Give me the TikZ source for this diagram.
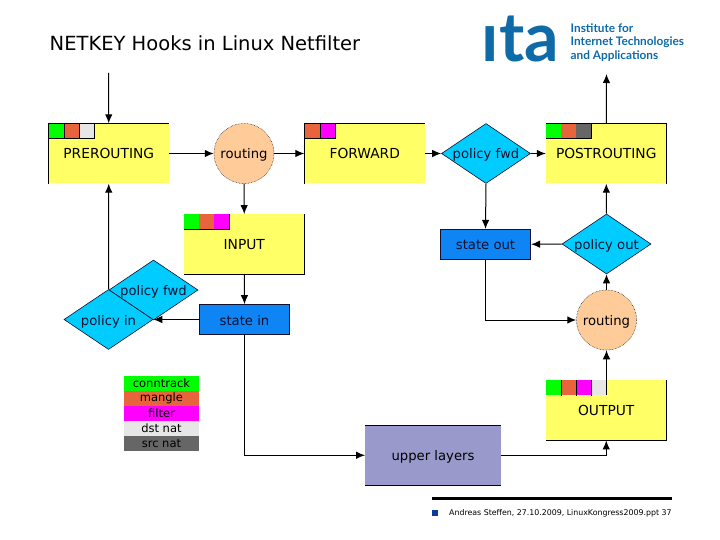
\documentclass[tikz,border=0pt]{standalone}
\usepackage{fontspec}
\setmainfont{DejaVu Sans}
\newfontfamily\logofont{Lato}
\usetikzlibrary{shapes.geometric,arrows.meta}
\definecolor{hookyellow}{HTML}{FFFF66}
\definecolor{routeorange}{HTML}{FFCC99}
\definecolor{policycyan}{HTML}{00CCFF}
\definecolor{stateblue}{HTML}{0F85F5}
\definecolor{layerviolet}{HTML}{9999CC}
\definecolor{cgreen}{HTML}{00FF00}
\definecolor{cmangle}{HTML}{E8643C}
\definecolor{cfilter}{HTML}{FF00FF}
\definecolor{cdst}{HTML}{E6E6E6}
\definecolor{csrc}{HTML}{666666}
\definecolor{itablue}{HTML}{0F6BA8}
\definecolor{labelink}{HTML}{101030}
\definecolor{bulletblue}{HTML}{0B3C9B}
\newcommand{\lab}[1]{\makebox[0pt]{\raisebox{-5.5pt}[0pt][0pt]{#1}}}
\tikzset{
  x=1pt,y=-1pt,
  hook/.style={fill=hookyellow,minimum width=120.5pt,minimum height=60pt,inner sep=0pt,font=\fontsize{13.8}{16}\selectfont},
  route/.style={circle,fill=routeorange,draw=black,line width=0.5pt,densely dotted,minimum size=60pt,inner sep=0pt,font=\fontsize{13.2}{16}\selectfont},
  policy/.style={diamond,fill=policycyan,draw=labelink,line width=0.6pt,minimum width=89pt,minimum height=60pt,inner sep=0pt,font=\fontsize{13.2}{16}\selectfont,text=labelink},
  statebox/.style={rectangle,fill=stateblue,draw=labelink,line width=0.7pt,minimum width=90.5pt,minimum height=30pt,inner sep=0pt,font=\fontsize{13.2}{16}\selectfont,text=labelink},
  layerbox/.style={fill=layerviolet,minimum width=135.5pt,minimum height=60pt,inner sep=0pt,font=\fontsize{13.2}{16}\selectfont},
  tab/.style={fill=#1,minimum size=15pt,inner sep=0pt,anchor=north west},
  legend/.style={fill=#1,minimum width=75.5pt,minimum height=15pt,inner sep=0pt,font=\fontsize{11.5}{13}\selectfont,anchor=north west},
  arrow/.style={draw=black,line width=1pt,-{Latex[length=9pt,width=7.5pt]}},
  edge/.style={draw=black,line width=1pt},
  blue text/.style={text=itablue,font=\logofont\bfseries\fontsize{11.8}{12}\selectfont,anchor=west,inner sep=0pt},
}
\begin{document}
\begin{tikzpicture}
\useasboundingbox (0,0) rectangle (720,540);
\fill[white] (0,0) rectangle (720,540);

\node[anchor=west,inner sep=0pt,font=\fontsize{19.5}{22}\selectfont] (title) at (49.5,43) {NETKEY Hooks in Linux Netfilter};
\node[anchor=base west,inner sep=0pt,text=itablue,font=\logofont\bfseries\fontsize{68}{72}\selectfont] (logo) at (481.5,62) {ıta};
\node[blue text] (inst1) at (570.5,28.5) {Institute for};
\node[blue text] (inst2) at (570.5,42.5) {Internet Technologies};
\node[blue text] (inst3) at (570.5,56.5) {and Applications};

% hooks
\node[hook] (pre) at (108.75,153.5) {PREROUTING};
\node[hook] (fwd) at (364.75,153.5) {FORWARD};
\node[hook] (post) at (606.25,153.5) {POSTROUTING};
\node[hook] (input) at (244.25,244.25) {INPUT};
\node[hook] (output) at (606.25,410.25) {OUTPUT};
\node[layerbox] (upper) at (433,455.25) {\lab{upper layers}};

\node[route] (route1) at (244,153.5) {\lab{routing}};
\node[route] (route2) at (606.5,320) {\lab{routing}};
\node[policy] (pfwd) at (486,153.5) {\lab{policy fwd}};
\node[policy] (pout) at (606.5,244) {\lab{policy out}};
\node[policy] (ppfwd) at (153.5,290) {\lab{policy fwd}};
\node[policy] (pin) at (108.5,319.5) {\lab{policy in}};
\node[statebox] (sout) at (485.5,244.25) {\lab{state out}};
\node[statebox] (sin) at (244.5,319.5) {\lab{state in}};

% hook borders
\draw[edge,line width=0.9pt] (pre.south west) -- (pre.north west) -- (pre.north east);
\draw[edge,line width=0.9pt] (fwd.south west) -- (fwd.north west) -- (fwd.north east);
\draw[edge,line width=0.9pt] (post.north west) -- (post.north east) -- (post.south east);
\draw[edge,line width=0.9pt] (input.north east) -- (input.south east) -- (input.south west);
\draw[edge,line width=0.9pt] (output.north east) -- (output.south east) -- (output.south west);
\draw[edge,line width=0.9pt] (upper.north west) -- (upper.north east);
\draw[edge,line width=0.9pt] (upper.south west) -- (upper.south east);

% colour tabs
\node[tab=cgreen] (pre1) at (48.5,123.5) {};
\node[tab=cmangle] (pre2) at (63.5,123.5) {};
\node[tab=cdst] (pre3) at (78.5,123.5) {};
\draw[edge,line width=0.8pt] (pre1.north east) -- (pre1.south east);
\draw[edge,line width=0.8pt] (pre2.north east) -- (pre2.south east);
\draw[edge,line width=0.8pt] (pre1.south west) -- (pre3.south east) -- (pre3.north east);
\node[tab=cmangle] (fwd1) at (304.5,123.5) {};
\node[tab=cfilter] (fwd2) at (319.5,123.5) {};
\draw[edge,line width=0.8pt] (fwd1.north east) -- (fwd1.south east);
\draw[edge,line width=0.8pt] (fwd1.south west) -- (fwd2.south east) -- (fwd2.north east);
\node[tab=cgreen] (post1) at (546,123.5) {};
\node[tab=cmangle] (post2) at (561,123.5) {};
\node[tab=csrc] (post3) at (576,123.5) {};
\draw[edge,line width=0.8pt] (post1.south west) -- (post3.south east) -- (post3.north east);
\node[tab=cgreen] (in1) at (184,214.25) {};
\node[tab=cmangle] (in2) at (199,214.25) {};
\node[tab=cfilter] (in3) at (214,214.25) {};
\draw[edge,line width=0.8pt] (in1.south west) -- (in3.south east) -- (in3.north east);
\node[tab=cgreen] (out1) at (546,380.25) {};
\node[tab=cmangle] (out2) at (561,380.25) {};
\node[tab=cfilter] (out3) at (576,380.25) {};
\node[tab=cdst] (out4) at (591,380.25) {};
\draw[edge,line width=0.6pt] (out1.north east) -- (out1.south east);
\draw[edge,line width=0.6pt] (out2.north east) -- (out2.south east);
\draw[edge,line width=0.6pt] (out3.north east) -- (out3.south east);
\coordinate (outtap) at (606.5,395);

% legend
\node[legend=cgreen] (l1) at (123.5,375.5) {conntrack};
\node[legend=cmangle] (l2) at (123.5,390.5) {mangle};
\node[legend=cfilter] (l3) at (123.5,405.5) {filter};
\node[legend=cdst] (l4) at (123.5,420.5) {dst nat};
\node[legend=csrc] (l5) at (123.5,435.5) {src nat};

% connectors
\coordinate (inend) at (108.5,73);
\coordinate (outend) at (606.5,74);
\draw[arrow] (inend) -- (pre.north);
\draw[arrow] (pre.east) -- (route1.west);
\draw[arrow] (route1.east) -- (fwd.west);
\draw[arrow] (route1.south) -- (input.north);
\draw[arrow] (fwd.east) -- (pfwd.west);
\draw[arrow] (pfwd.east) -- (post.west);
\draw[arrow] (pfwd.south) -- (sout.north);
\draw[arrow] (post.north) -- (outend);
\draw[arrow] (pout.north) -- (post.south);
\draw[arrow] (pout.west) -- (sout.east);
\draw[arrow] (route2.north) -- (pout.south);
\draw[arrow] (sout.south) |- (route2.west);
\draw[arrow] (outtap) -- (route2.south);
\draw[arrow] (upper.east) -| (output.south);
\draw[arrow] (sin.south) |- (upper.west);
\draw[arrow] (input.south) -- (sin.north);
\draw[arrow] (sin.west) -- (pin.east);
\draw[arrow] (pin.north) -- (pre.south);

% footer
\coordinate (ruleA) at (432,498);
\coordinate (ruleB) at (672,498);
\draw[black,line width=3pt] (ruleA) -- (ruleB);
\node[fill=bulletblue,minimum size=6pt,inner sep=0pt] (bullet) at (435,513) {};
\node[anchor=west,inner sep=0pt,font=\fontsize{7.85}{10}\selectfont] (foot) at (449,513) {Andreas Steffen, 27.10.2009, LinuxKongress2009.ppt 37};
\end{tikzpicture}
\end{document}
